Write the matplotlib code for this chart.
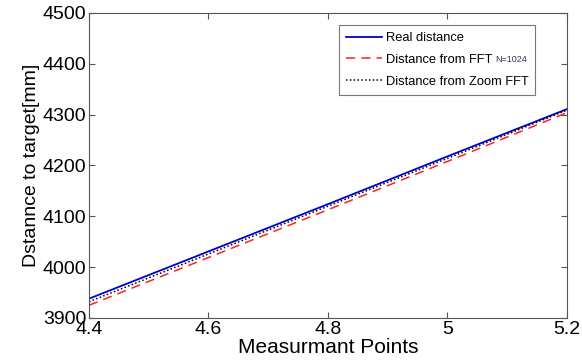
import matplotlib
matplotlib.use("Agg")
import matplotlib.pyplot as plt

plt.rcParams['font.family'] = ['Liberation Sans', 'DejaVu Sans']

# measurement points and distances
points = [4.4, 4.6, 4.8, 5.0, 5.2]
real_dist = [3938, 4031, 4124, 4218, 4311]
fft_dist = [3925, 4019, 4113, 4208, 4304]
zoom_fft_dist = [3932, 4026, 4120, 4214, 4309]

fig = plt.figure(figsize=(5.82, 3.62), dpi=100)
ax = fig.add_axes([89/582, 1-318/362, (567-89)/582, (318-13)/362])

ax.plot(points, real_dist, color='#0000cc', lw=1.3, label='Real distance')
ax.plot(points, fft_dist, color='#ff2020', lw=1.1, ls=(0, (6, 4)), label='Distance from FFT')
ax.plot(points, zoom_fft_dist, color='black', lw=1.1, ls=(0, (1, 1.5)), label='Distance from Zoom FFT')

ax.set_xlim(4.4, 5.2)
ax.set_ylim(3900, 4500)
ax.set_xticks([4.4, 4.6, 4.8, 5.0, 5.2])
ax.set_xticklabels(['4.4', '4.6', '4.8', '5', '5.2'])
ax.set_yticks([3900, 4000, 4100, 4200, 4300, 4400, 4500])
ax.tick_params(direction='in', labelsize=14, length=4, color='#555555', top=True, right=True, pad=2)
for s in ax.spines.values():
    s.set_color('#555555')
ax.set_xlabel('Measurmant Points', fontsize=15, labelpad=0)
ax.set_ylabel('Dstannce to target[mm]', fontsize=14, labelpad=2)

leg = ax.legend(loc='upper left', bbox_to_anchor=((339-89)/478, 1-(25-13)/305), fontsize=9.3,
                frameon=True, fancybox=False, edgecolor='#555555', handlelength=2.8,
                handletextpad=0.25, labelspacing=0.75, borderpad=0.55, borderaxespad=0)
leg.get_frame().set_linewidth(0.8)
fig.text(495/582, 1-60/362, 'N=1024', fontsize=6.5, color='#333366', va='center')

fig.savefig('out.png', dpi=100)
